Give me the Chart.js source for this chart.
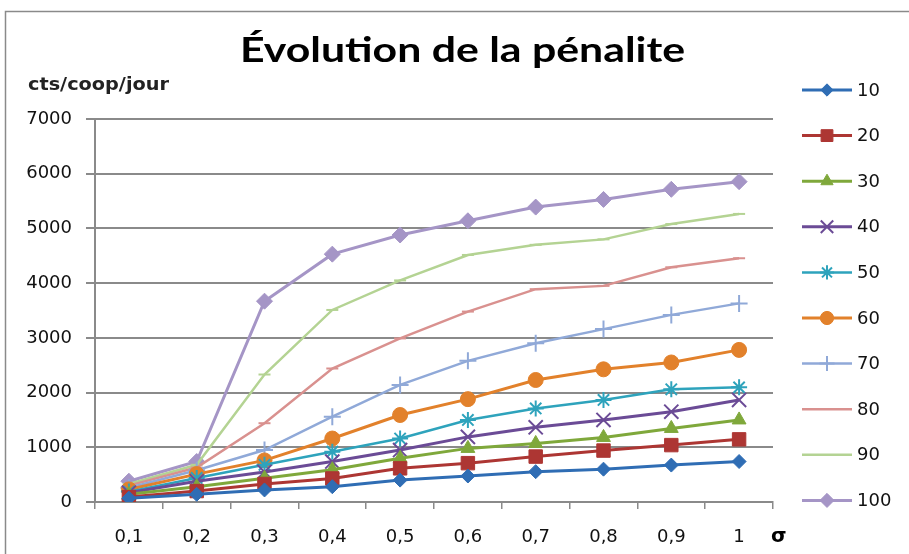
<!DOCTYPE html>
<html>
<head>
<meta charset="utf-8">
<title>Évolution de la pénalite</title>
<script src="https://cdn.jsdelivr.net/npm/chart.js@4/dist/chart.umd.min.js"></script>
<style>
    html, body { margin: 0; padding: 0; background: #fff; }
    #wrap { width: 909px; height: 554px; position: relative; }
</style>
</head>
<body>
<div id="wrap"><canvas id="chart" width="909" height="554"></canvas></div>
<script>
const sigmaLabels = ['0,1', '0,2', '0,3', '0,4', '0,5', '0,6', '0,7', '0,8', '0,9', '1'];
const seriesNames = ['10', '20', '30', '40', '50', '60', '70', '80', '90', '100'];
const yTicks = [0, 1000, 2000, 3000, 4000, 5000, 6000, 7000];

const s10  = [70, 140, 220, 280, 400, 475, 555, 600, 675, 740];
const s20  = [90, 200, 330, 430, 615, 710, 830, 940, 1040, 1145];
const s30  = [140, 280, 435, 590, 800, 980, 1070, 1180, 1345, 1500];
const s40  = [170, 380, 550, 740, 950, 1190, 1365, 1500, 1650, 1865];
const s50  = [190, 440, 680, 920, 1160, 1500, 1710, 1865, 2060, 2095];
const s60  = [230, 510, 760, 1160, 1590, 1880, 2230, 2425, 2550, 2780];
const s70  = [260, 580, 950, 1560, 2140, 2580, 2900, 3160, 3420, 3630];
const s80  = [300, 630, 1440, 2440, 2990, 3480, 3890, 3950, 4290, 4455];
const s90  = [330, 680, 2330, 3510, 4050, 4515, 4700, 4800, 5080, 5265];
const s100 = [380, 740, 3670, 4530, 4880, 5140, 5390, 5530, 5715, 5855];

const seriesValues = [s10, s20, s30, s40, s50, s60, s70, s80, s90, s100];
const seriesColors = ['#2f6db4', '#ad3633', '#7fa83b', '#6b4b96', '#2ea3bc',
                      '#e2812b', '#90a9d8', '#d9918f', '#b4d393', '#a595c6'];
const seriesMarkers = ['rectRot', 'rect', 'triangle', 'crossRot', 'star',
                       'circle', 'cross', 'line', 'line', 'rectRot'];
const markerSizes = [7, 9.5, 8, 10, 8, 7.5, 8.5, 6, 6, 8];
const lineWidths = [3, 3, 3, 3, 2.5, 3, 2.5, 2.5, 2.5, 3];

const GRID = '#8a8a8a';
const FONT = '"DejaVu Sans", sans-serif';

const datasets = seriesNames.map((name, i) => {
    const filled = ['rectRot', 'rect', 'triangle', 'circle'].includes(seriesMarkers[i]);
    return {
        label: name,
        data: seriesValues[i],
        borderColor: seriesColors[i],
        backgroundColor: seriesColors[i],
        borderWidth: lineWidths[i],
        pointStyle: seriesMarkers[i],
        pointRadius: markerSizes[i],
        pointBorderWidth: filled ? 1 : 2,
        pointBorderColor: seriesColors[i],
        pointBackgroundColor: seriesColors[i],
        tension: 0,
        fill: false,
    };
});

// text squeezed/stretched to a given width
function wideText(ctx, text, x, y, width) {
    const w = ctx.measureText(text).width;
    ctx.save();
    ctx.translate(x, y);
    ctx.scale(width / w, 1);
    ctx.fillText(text, 0, 0);
    ctx.restore();
}

// frame, title, axis captions and the right-hand legend
const decor = {
    id: 'decor',
    afterDraw(chart) {
        const ctx = chart.ctx;
        ctx.save();

        ctx.strokeStyle = GRID;
        ctx.lineWidth = 1.5;
        ctx.strokeRect(5.5, 11.5, 1000, 1000);

        ctx.fillStyle = '#000';
        ctx.textAlign = 'left';
        ctx.textBaseline = 'alphabetic';
        ctx.font = 'bold 35px Lato, sans-serif';
        wideText(ctx, 'Évolution de la pénalite', 240, 62, 445);

        ctx.font = 'bold 17px ' + FONT;
        ctx.fillStyle = '#222';
        wideText(ctx, 'cts/coop/jour', 28, 90, 141);

        ctx.font = 'bold 20px ' + FONT;
        ctx.fillStyle = '#000';
        ctx.textBaseline = 'middle';
        ctx.fillText('σ', 771, 537);

        // legend
        chart.data.datasets.forEach((ds, i) => {
            const y = 90 + i * 45.6;
            ctx.strokeStyle = ds.borderColor;
            ctx.lineWidth = ds.borderWidth;
            ctx.beginPath();
            ctx.moveTo(802, y);
            ctx.lineTo(852, y);
            ctx.stroke();
            ctx.fillStyle = ds.pointBackgroundColor;
            ctx.strokeStyle = ds.pointBorderColor;
            ctx.lineWidth = ds.pointBorderWidth;
            if (ds.pointStyle !== 'line') {
                Chart.helpers.drawPoint(ctx, {
                    pointStyle: ds.pointStyle,
                    radius: ds.pointRadius * 0.88,
                    borderWidth: ds.pointBorderWidth,
                    rotation: 0
                }, 827, y);
            }
            ctx.fillStyle = '#111';
            ctx.font = '18px ' + FONT;
            ctx.textAlign = 'left';
            ctx.textBaseline = 'middle';
            ctx.fillText(ds.label, 857, y + 1);
        });

        ctx.restore();
    }
};

new Chart(document.getElementById('chart'), {
    type: 'line',
    data: { labels: sigmaLabels, datasets },
    options: {
        responsive: false,
        animation: false,
        devicePixelRatio: 1,
        layout: { padding: { top: 119, right: 136, bottom: 0, left: 0 } },
        plugins: {
            legend: { display: false },
            title: { display: false },
            tooltip: { enabled: false }
        },
        scales: {
            x: {
                offset: true,
                afterFit: s => { s.height = 52; },
                grid: {
                    offset: true,
                    drawOnChartArea: false,
                    color: GRID,
                    lineWidth: 1.5,
                    tickLength: 7
                },
                border: { display: true, color: GRID, width: 2 },
                ticks: {
                    color: '#111',
                    font: { family: FONT, size: 18 },
                    padding: 18,
                    maxRotation: 0,
                    autoSkip: false
                }
            },
            y: {
                min: 0,
                max: 7000,
                afterFit: s => { s.width = 95; },
                afterBuildTicks: s => { s.ticks = yTicks.map(v => ({ value: v })); },
                grid: {
                    color: GRID,
                    lineWidth: 2,
                    tickLength: 9
                },
                border: { display: true, color: GRID, width: 2 },
                ticks: {
                    color: '#111',
                    font: { family: FONT, size: 18 },
                    padding: 14,
                    callback: v => String(v)
                }
            }
        }
    },
    plugins: [decor]
});
</script>
</body>
</html>
